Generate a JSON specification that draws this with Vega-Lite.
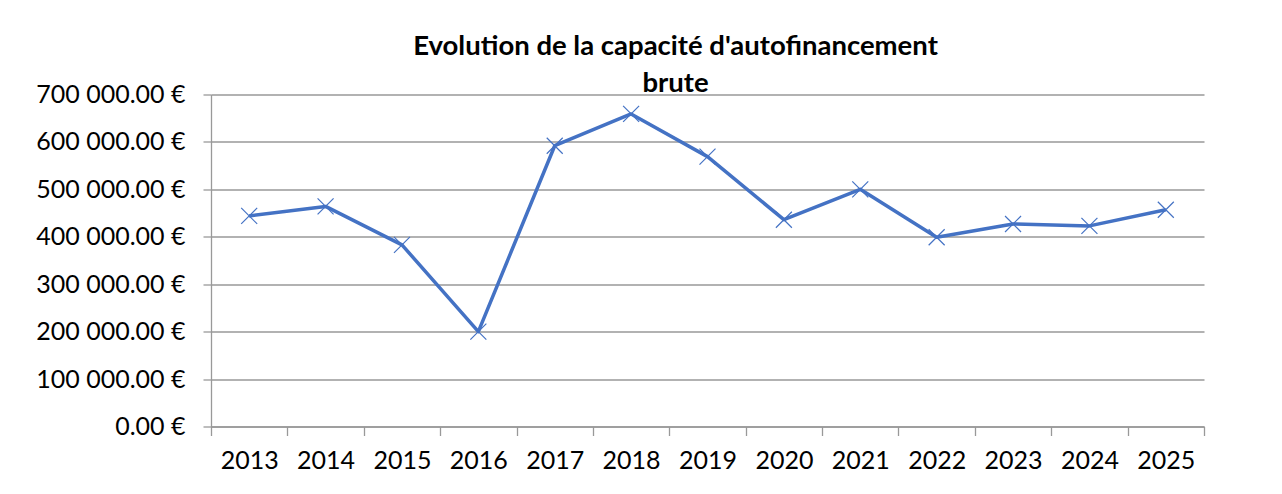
{
  "$schema": "https://vega.github.io/schema/vega-lite/v6.json",
  "autosize": {"type": "none"},
  "width": 993,
  "height": 332,
  "padding": {"left": 211, "top": 94.5, "right": 78, "bottom": 67.5},
  "background": "white",
  "config": {
    "font": "Lato",
    "view": {"stroke": null},
    "locale": {"number": {"decimal": ".", "thousands": " ", "grouping": [3], "currency": ["", " €"]}}
  },
  "title": {
    "text": ["Evolution de la capacité d'autofinancement", "brute"],
    "font": "Lato",
    "fontSize": 27.5,
    "fontWeight": "bold",
    "color": "#000000",
    "anchor": "middle",
    "dx": -32,
    "offset": -15,
    "lineHeight": 37
  },
  "data": {
    "values": [
      {"annee": "2013", "caf": 444000},
      {"annee": "2014", "caf": 464000},
      {"annee": "2015", "caf": 383000},
      {"annee": "2016", "caf": 200000},
      {"annee": "2017", "caf": 592000},
      {"annee": "2018", "caf": 659000},
      {"annee": "2019", "caf": 569000},
      {"annee": "2020", "caf": 436000},
      {"annee": "2021", "caf": 500000},
      {"annee": "2022", "caf": 399000},
      {"annee": "2023", "caf": 427000},
      {"annee": "2024", "caf": 423000},
      {"annee": "2025", "caf": 457000}
    ]
  },
  "encoding": {
    "x": {
      "field": "annee",
      "type": "ordinal",
      "scale": {"type": "band", "paddingInner": 0, "paddingOuter": 0},
      "axis": {
        "title": null,
        "labelAngle": 0,
        "labelFont": "Lato",
        "labelFontSize": 25,
        "labelColor": "#000000",
        "labelPadding": 13,
        "tickBand": "extent",
        "tickSize": 9,
        "tickColor": "#999999",
        "domainColor": "#999999",
        "domainWidth": 1.3,
        "tickWidth": 1.3,
        "grid": false
      }
    },
    "y": {
      "field": "caf",
      "type": "quantitative",
      "scale": {"domain": [0, 700000], "nice": false},
      "axis": {
        "title": null,
        "values": [0, 100000, 200000, 300000, 400000, 500000, 600000, 700000],
        "format": "$,.2f",
        "labelFont": "Lato",
        "labelFontSize": 25,
        "labelColor": "#000000",
        "labelPadding": 18,
        "tickSize": 8,
        "tickColor": "#999999",
        "tickWidth": 1.3,
        "domainColor": "#999999",
        "domainWidth": 1.3,
        "grid": true,
        "gridColor": "#999999",
        "gridWidth": 1.3
      }
    }
  },
  "layer": [
    {
      "mark": {"type": "line", "color": "#4472C4", "strokeWidth": 3.5, "strokeJoin": "round"}
    },
    {
      "mark": {
        "type": "point",
        "shape": "M-1,-1L1,1M-1,1L1,-1",
        "filled": false,
        "stroke": "#4472C4",
        "strokeWidth": 1.2,
        "size": 256,
        "opacity": 1
      }
    }
  ]
}
